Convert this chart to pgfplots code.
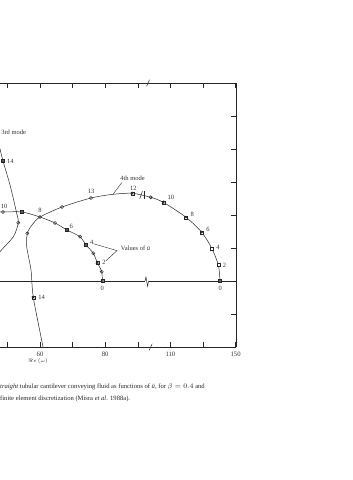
\documentclass[border=0pt]{standalone}
\usepackage{fontspec}
\setmainfont{Liberation Serif}
\usepackage{pgfplots}
\pgfplotsset{compat=1.18}
\begin{document}
\begin{tikzpicture}[
  lbl/.style={font=\fontsize{6.5}{7}\selectfont, text=black!80, inner sep=0.5pt},
  circ/.style={mark=o, mark size=1.6pt, mark options={fill=white, line width=0.5pt}},
  sq/.style={mark=square*, mark size=1.5pt, mark options={fill=white, line width=0.5pt}},
  st/.style={mark=asterisk, mark size=1.8pt, mark options={line width=0.35pt}},
]
\useasboundingbox (0pt,0pt) rectangle (353pt,-480pt);
\begin{axis}[at={(0pt,-83pt)}, anchor=north west, scale only axis,
  width=236.3pt, height=264pt,
  xmin=47.73, xmax=120.2, ymin=-20, ymax=60,
  axis x line*=box, axis y line*=right,
  xtick={50,60,...,120}, xticklabels={,60,,80,,110,,150},
  ytick={-20,-10,...,60}, yticklabels={},
  tick align=inside, major tick length=5pt,
  tick style={black!85, line width=0.6pt},
  axis line style={black!85, line width=0.6pt},
  ticklabel style={font=\fontsize{6.7}{7}\selectfont, text=black!80},
  xticklabel style={yshift=-1.5pt},
  /pgf/number format/assume math mode=true,
  clip mode=individual,
  every axis plot/.append style={line width=0.5pt, black!85},
]
% zero line (Im = 0) with a break
\addplot[no marks] coordinates {(47.73,0) (92.2,0)};
\addplot[no marks] coordinates {(93.3,0) (120.2,0)};
% 4th mode curve
\addplot[smooth, tension=0.45, no marks] coordinates {
 (115.21,0) (114.69,4.85) (112.67,9.91) (109.6,14.76) (104.79,19.3)
 (97.82,23.85) (93.96,25.36) (88.31,26.58) (82.39,26.27) (75.64,25.15)
 (66.75,22.42) (60,19.39) (57.55,16.97) (56.1,14.45) (55.92,10.39)
 (57.24,3.33) (57.94,-4.94) (60.92,-20) (61.23,-22.4)};
% 3rd mode, inner branch
\addplot[smooth, tension=0.45, no marks] coordinates {
 (79.11,0) (78.93,2.82) (77.58,5.55) (76.35,8.39) (74.11,10.91)
 (72.27,13.42) (68.28,15.45) (64.6,17.58) (60,19.39) (54.48,20.91)
 (48.65,20.91) (46.8,20.91)};
% 3rd mode, branch returning from the left
\addplot[smooth, tension=0.5, no marks] coordinates {
 (46.8,7.0) (47.73,8.88) (51.81,13.42) (53.34,17.67) (52.85,20.52)
 (50.8,29.09) (48.65,36.36) (47.73,40) (47.12,41.8)};
% markers: squares with stars
\addplot[only marks, sq] coordinates {(115.21,0) (114.69,4.85) (112.67,9.91) (109.6,14.76) (104.79,19.3) (97.82,23.85) (88.31,26.58) (57.94,-4.94)
 (79.11,0) (77.58,5.55) (74.11,10.91) (68.28,15.45) (54.48,20.91) (48.65,36.36)};
\addplot[only marks, st] coordinates {(115.21,0) (109.6,14.76) (104.79,19.3) (97.82,23.85) (88.31,26.58) (57.94,-4.94)
 (79.11,0) (77.58,5.55) (74.11,10.91) (68.28,15.45) (54.48,20.91) (48.65,36.36)};
% markers: circles
\addplot[only marks, circ] coordinates {(93.96,25.36) (75.64,25.15) (66.75,22.42) (56.1,14.45)
 (78.93,2.82) (76.35,8.39) (72.27,13.42) (64.6,17.58) (60,19.39) (48.65,20.91) (53.34,17.67)};
% break marks
\draw[black!85, line width=0.5pt] (axis cs:92.2,0) -- (axis cs:92.5,1.2) -- (axis cs:93.0,-1.6) -- (axis cs:93.3,0);
\draw[black!85, line width=0.5pt] (axis cs:93.5,-21.0) -- (axis cs:94.4,-19.0);
\draw[black!85, line width=0.5pt] (axis cs:92.7,59.0) -- (axis cs:93.6,61.0);
\draw[black!85, line width=0.5pt] (axis cs:90.6,24.9) -- (axis cs:91.4,27.2);
\draw[black!85, line width=0.5pt] (axis cs:91.9,24.8) -- (axis cs:91.9,27.3);
% labels, 4th mode
\node[lbl, anchor=north] at (axis cs:115.3,-1.3) {0};
\node[lbl, anchor=west] at (axis cs:115.9,4.85) {2};
\node[lbl, anchor=west] at (axis cs:113.9,10.2) {4};
\node[lbl, anchor=west] at (axis cs:110.8,15.6) {6};
\node[lbl, anchor=west] at (axis cs:106.0,20.2) {8};
\node[lbl, anchor=west] at (axis cs:98.9,25.4) {10};
\node[lbl, anchor=south] at (axis cs:88.6,27.3) {12};
\node[lbl, anchor=south] at (axis cs:75.64,26.3) {13};
\node[lbl, anchor=west] at (axis cs:59.3,-4.94) {14};
\node[lbl] at (axis cs:88.4,31.2) {4th mode};
\draw[black!85, line width=0.4pt] (axis cs:85.06,29.8) -- (axis cs:82.48,26.4);
% labels, 3rd mode
\node[lbl, anchor=north] at (axis cs:79.11,-1.3) {0};
\node[lbl, anchor=west] at (axis cs:78.9,5.7) {2};
\node[lbl, anchor=east] at (axis cs:76.6,11.7) {4};
\node[lbl, anchor=south west] at (axis cs:68.9,15.6) {6};
\node[lbl, anchor=south] at (axis cs:60,20.4) {8};
\node[lbl, anchor=south] at (axis cs:48.96,21.6) {10};
\node[lbl, anchor=west] at (axis cs:49.7,36.36) {14};
\node[lbl, anchor=west] at (axis cs:47.9,45.15) {3rd mode};
\node[lbl, anchor=west] at (axis cs:84.6,9.9) {Values of \textit{ū}};
\draw[black!85, line width=0.4pt] (axis cs:76.4,11.3) -- (axis cs:83.6,9.2) -- (axis cs:80.25,6.15);
% axis title
\node[font=\fontsize{5.5}{6}\selectfont, text=black!80] at (axis cs:59.4,-24.4) {$\Re e\,(\omega)$};
\end{axis}
\node[anchor=base west, inner sep=0pt, font=\fontsize{6.6}{8}\selectfont, text=black!85] at (0pt,-388.5pt)
 {\textit{traight} tubular cantilever conveying fluid as functions of \textit{ū}, for $\beta = 0.4$ and};
\node[anchor=base west, inner sep=0pt, font=\fontsize{6.6}{8}\selectfont, text=black!85] at (0pt,-400pt)
 {finite element discretization (Misra \textit{et al}. 1988a).};
\end{tikzpicture}
\end{document}
